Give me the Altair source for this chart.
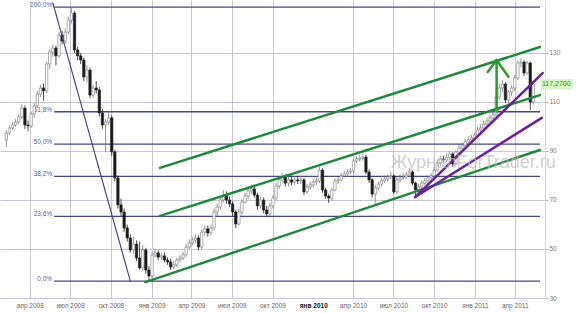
import altair as alt
import pandas as pd

# ---------------- data ----------------
first_open = 94.5
close = [97.3, 99.4, 100.6, 101.8, 103.9, 107.5, 100.6, 100.2, 105.1, 108.4,
         113.2, 115.7, 114.5, 125.5, 130.4, 132.0, 128.8, 137.3, 134.9, 138.5,
         143.4, 146.3, 131.2, 128.8, 127.1, 120.2, 123.0, 112.8, 115.7, 114.9,
         105.5, 100.6, 101.8, 103.5, 89.6, 79.0, 68.0, 65.1, 58.6, 54.5,
         49.6, 52.0, 46.3, 42.3, 49.6, 41.4, 39.0, 47.6, 48.4, 46.7,
         47.2, 45.5, 44.7, 42.7, 43.5, 45.5, 46.3, 47.6, 50.8, 52.5,
         53.7, 54.5, 50.8, 56.9, 58.2, 56.5, 58.6, 65.1, 67.1, 70.0,
         72.0, 70.0, 68.4, 65.1, 60.2, 65.1, 69.2, 71.6, 73.7, 74.5,
         72.0, 67.6, 70.0, 65.9, 64.3, 67.6, 70.8, 75.7, 78.2, 79.4,
         76.9, 78.2, 77.3, 78.2, 77.8, 78.2, 73.3, 75.3, 76.1, 77.3,
         77.8, 82.2, 74.1, 71.6, 70.8, 74.1, 77.8, 78.2, 79.8, 80.6,
         81.4, 81.8, 85.9, 86.7, 87.1, 87.5, 81.4, 78.2, 72.4, 74.9,
         76.5, 77.8, 78.6, 79.4, 79.8, 73.3, 78.2, 79.0, 79.4, 80.2,
         81.4, 76.9, 74.1, 75.3, 76.9, 77.8, 79.0, 79.8, 82.2, 85.1,
         86.7, 86.3, 87.5, 88.8, 84.7, 89.6, 91.2, 92.4, 93.7, 94.5,
         95.3, 96.5, 98.6, 99.4, 101.0, 102.2, 103.5, 104.7, 112.0, 115.7,
         117.3, 110.8, 114.1, 115.7, 119.8, 125.9, 126.3, 121.8, 125.9, 110.0,
         117.27]
high = [98.5, 100.5, 101.8, 103.0, 105.0, 108.9, 108.6, 102.4, 106.2, 109.5,
        114.5, 117.0, 117.5, 126.5, 131.6, 133.5, 133.0, 138.5, 139.0, 140.0,
        144.8, 148.7, 147.0, 132.5, 130.0, 128.0, 125.0, 124.0, 117.0, 118.5,
        116.0, 107.0, 103.0, 106.5, 104.5, 90.5, 80.0, 70.5, 66.5, 60.0,
        56.0, 55.0, 53.5, 53.0, 51.5, 50.5, 43.0, 48.5, 50.0, 49.5,
        48.5, 48.5, 46.5, 46.0, 45.0, 46.5, 47.5, 48.8, 52.0, 54.0,
        55.0, 56.0, 55.5, 58.0, 59.5, 59.5, 60.0, 66.5, 68.5, 71.5,
        74.0, 73.5, 71.5, 69.5, 66.0, 66.5, 70.5, 73.0, 75.0, 76.0,
        75.5, 73.0, 71.5, 71.0, 67.5, 68.8, 72.0, 77.0, 79.5, 81.0,
        80.5, 79.5, 80.0, 79.5, 79.8, 80.0, 79.0, 76.5, 77.5, 78.5,
        79.0, 83.5, 83.0, 75.0, 72.5, 75.0, 78.8, 79.5, 81.0, 82.0,
        82.5, 83.0, 87.0, 88.0, 88.5, 89.0, 88.5, 82.5, 79.0, 76.0,
        77.5, 79.0, 80.0, 80.5, 81.5, 80.5, 79.5, 80.5, 81.0, 81.5,
        83.0, 82.0, 77.5, 76.5, 78.0, 79.0, 80.0, 81.0, 83.5, 86.5,
        88.0, 88.0, 89.0, 90.0, 89.5, 90.5, 92.5, 93.5, 95.0, 96.0,
        96.5, 97.5, 99.8, 100.8, 102.5, 103.5, 104.8, 106.0, 113.0, 117.5,
        119.0, 118.0, 115.0, 117.0, 121.0, 127.0, 127.9, 127.0, 126.8, 126.5,
        118.5]
low = [91.6, 96.5, 98.6, 99.8, 100.9, 103.0, 99.0, 98.0, 99.5, 103.5,
       107.6, 112.0, 110.5, 113.6, 123.5, 128.5, 125.0, 128.0, 133.5, 133.8,
       137.5, 142.0, 130.0, 127.0, 125.5, 118.5, 118.0, 111.5, 111.5, 113.5,
       104.0, 99.0, 89.6, 100.5, 88.0, 77.5, 66.5, 63.5, 57.0, 53.0,
       48.5, 48.0, 45.0, 41.5, 41.0, 40.0, 36.9, 38.0, 46.5, 45.5,
       45.5, 44.5, 43.5, 41.5, 42.0, 42.5, 44.5, 45.5, 46.8, 50.0,
       51.5, 52.5, 49.5, 50.0, 55.5, 55.0, 55.5, 57.5, 63.5, 66.0,
       69.0, 68.5, 67.0, 63.5, 58.6, 59.5, 64.0, 68.5, 70.5, 72.5,
       71.0, 66.0, 66.5, 64.5, 63.0, 63.5, 66.5, 70.0, 74.5, 77.0,
       75.5, 75.5, 76.0, 76.0, 76.5, 76.5, 72.0, 72.5, 74.0, 75.0,
       76.0, 77.0, 73.0, 70.5, 68.8, 70.0, 73.5, 76.5, 77.5, 79.0,
       79.5, 80.5, 81.0, 85.0, 85.5, 86.0, 80.5, 77.0, 71.0, 68.0,
       74.0, 75.5, 77.0, 77.5, 78.5, 72.5, 72.5, 77.0, 78.0, 78.5,
       79.5, 76.0, 72.0, 73.0, 74.5, 76.0, 77.0, 78.0, 79.0, 81.5,
       84.0, 85.0, 85.5, 86.5, 83.5, 84.0, 88.5, 90.5, 91.5, 93.0,
       93.5, 94.5, 95.5, 97.5, 98.5, 100.0, 101.0, 102.5, 104.0, 111.0,
       114.0, 109.5, 108.8, 112.5, 114.5, 119.0, 124.0, 120.5, 121.0, 106.7,
       109.0]
open_ = [first_open] + close[:-1]
dates = pd.date_range("2008-02-08", periods=len(close), freq="7D").strftime("%Y-%m-%d")

candles = pd.DataFrame({"date": dates, "open": open_, "close": close,
                        "high": high, "low": low})

# Fibonacci retracement
fib_high = 148.7
fib_low = 36.9
fib_ratios = [1.0, 0.618, 0.5, 0.382, 0.236, 0.0]
fib_labels = ["100,0%", "61,8%", "50,0%", "38,2%", "23,6%", "0,0%"]
fib_start = "2008-05-26"
fib_end = "2011-05-28"
fib = pd.DataFrame({
    "level": [fib_low + r * (fib_high - fib_low) for r in fib_ratios],
    "label": fib_labels,
    "start": [fib_start] * len(fib_ratios),
    "end": [fib_end] * len(fib_ratios),
})

# drawn trend lines: start date, start value, end date, end value
seg_d1 = ["2009-01-20", "2009-01-20", "2008-12-18", "2010-08-19", "2010-08-19",
          "2008-05-23", "2011-02-19", "2011-01-30", "2011-03-18"]
seg_v1 = [83.1, 63.5, 36.5, 71.2, 71.2, 150.4, 106.0, 122.2, 120.2]
seg_d2 = ["2011-05-28", "2011-05-28", "2011-05-28", "2011-06-03", "2011-06-01",
          "2008-11-14", "2011-02-19", "2011-02-19", "2011-02-19"]
seg_v2 = [132.4, 112.8, 90.4, 121.8, 103.5, 36.9, 127.1, 127.1, 127.1]
seg_col = ["#21873a", "#21873a", "#21873a", "#6a1f9c", "#6a1f9c",
           "#45458f", "#2f9a33", "#2f9a33", "#2f9a33"]
seg_w = [2.5, 2.5, 2.5, 2.5, 2.5, 1.2, 2.5, 2.5, 2.5]
segs = pd.DataFrame({"d1": seg_d1, "v1": seg_v1, "d2": seg_d2, "v2": seg_v2,
                     "col": seg_col, "w": seg_w})

last_price = 117.27
price_label = pd.DataFrame({"d": ["2011-05-30"], "d2": ["2011-08-10"],
                            "v": [last_price], "top": [119.4], "bot": [115.1],
                            "txt": ["117,2700"]})
watermark = pd.DataFrame({"d": ["2010-06-25"], "v": [83.0],
                          "txt": ["ЖурналForTrader.ru"]})

tick_dates = [alt.DateTime(year=y, month=m, date=1)
              for y, m in [(2008, 4), (2008, 7), (2008, 10), (2009, 1), (2009, 4),
                           (2009, 7), (2009, 10), (2010, 1), (2010, 4), (2010, 7),
                           (2010, 10), (2011, 1), (2011, 4)]]
y_ticks = [30, 50, 70, 90, 110, 130]

# ---------------- scales / axes ----------------
GRID = "#c6c6da"
is_jan2010 = "year(datum.value)==2010 && month(datum.value)==0"
x_scale = alt.Scale(domain=[alt.DateTime(year=2008, month=2, date=5),
                            alt.DateTime(year=2011, month=5, date=28)])
y_scale = alt.Scale(domain=[30, 151.6], nice=False, zero=False)
x_axis = alt.Axis(
    values=tick_dates, title=None, ticks=False, domain=False,
    labelExpr="['янв','фев','мар','апр','май','июн','июл','авг','сен','окт','ноя','дек'][month(datum.value)] + ' ' + year(datum.value)",
    labelFontSize=6.5, labelPadding=4, labelFont="Liberation Sans",
    labelColor={"condition": {"test": is_jan2010, "value": "#111111"}, "value": "#666666"},
    labelFontWeight={"condition": {"test": is_jan2010, "value": "bold"}, "value": "normal"},
    grid=True, gridColor=GRID, gridWidth=1,
    gridOpacity={"condition": {"test": is_jan2010, "value": 0}, "value": 1},
)
y_axis = alt.Axis(
    values=y_ticks, orient="right", title=None, grid=True, gridColor=GRID,
    tickSize=3, tickColor="#aaaaaa", labelPadding=1, labelFontSize=6.5,
    labelFont="Liberation Sans", labelColor="#777777",
    domain=True, domainColor="#d6d6d6",
)


def X(f):
    return alt.X(f, scale=x_scale, axis=x_axis)


def Y(f):
    return alt.Y(f, scale=y_scale, axis=y_axis)


# ---------------- layers ----------------
fib_lines = alt.Chart(fib).mark_rule(color="#45458f", strokeWidth=1.3).encode(
    x=X("start:T"), x2="end:T", y=Y("level:Q"))
fib_text = alt.Chart(fib).mark_text(
    align="right", baseline="bottom", dx=-2, dy=1, fontSize=6.5,
    font="Liberation Sans", color="#5a5a9a").encode(
    x=X("start:T"), y=Y("level:Q"), text="label:N")

up = "datum.close >= datum.open"
wicks = alt.Chart(candles).mark_rule(strokeWidth=0.8).encode(
    x=X("date:T"), y=Y("low:Q"), y2="high:Q",
    color=alt.condition(up, alt.value("#7a7a7a"), alt.value("#1c1c1c")))
bodies = alt.Chart(candles).mark_bar(size=2.4, strokeWidth=0.6).encode(
    x=X("date:T"), y=Y("open:Q"), y2="close:Q",
    fill=alt.condition(up, alt.value("#ffffff"), alt.value("#1c1c1c")),
    stroke=alt.condition(up, alt.value("#7a7a7a"), alt.value("#1c1c1c")))

lines = alt.Chart(segs).mark_rule(strokeCap="round").encode(
    x=X("d1:T"), x2="d2:T", y=Y("v1:Q"), y2="v2:Q",
    color=alt.Color("col:N", scale=None),
    strokeWidth=alt.StrokeWidth("w:Q", scale=None))

wm = alt.Chart(watermark).mark_text(
    align="left", baseline="alphabetic", fontSize=18, font="Liberation Sans",
    color="#bdbdbd", opacity=0.7).encode(x=X("d:T"), y=Y("v:Q"), text="txt:N")

pbox = alt.Chart(price_label).mark_rect(color="#d6f5bf").encode(
    x=X("d:T"), x2="d2:T", y=Y("top:Q"), y2="bot:Q")
ptext = alt.Chart(price_label).mark_text(
    align="left", baseline="middle", fontSize=7, font="Liberation Sans",
    color="#3a9a1a", dx=1).encode(x=X("d:T"), y=Y("v:Q"), text="txt:N")

chart = alt.layer(
    fib_lines, fib_text, wicks, bodies, lines, wm, pbox, ptext
).properties(
    width=545, height=298,
    autosize=alt.AutoSizeParams(type="none"),
    padding={"left": 0, "top": 0, "right": 31, "bottom": 15},
    background="white",
).configure_view(stroke=None)

chart.save("out.html", embed_options={"renderer": "svg", "actions": False})
